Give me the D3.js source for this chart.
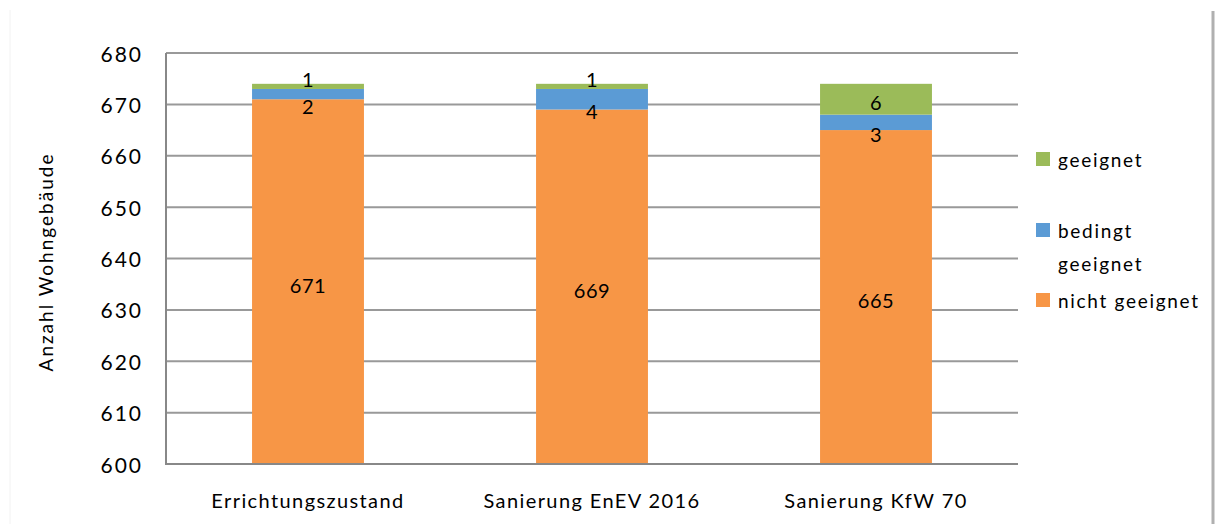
<!DOCTYPE html>
<html><head><meta charset="utf-8">
<script src="https://cdn.jsdelivr.net/npm/d3@7"></script>
<style>
html,body{margin:0;padding:0;background:#fff;}
svg{display:block;font-family:Lato,"Open Sans",sans-serif;}
</style></head>
<body>
<svg id="chart" width="1216" height="524"></svg>
<script>
const categories = ["Errichtungszustand", "Sanierung EnEV 2016", "Sanierung KfW 70"];
const seriesNames = ["nicht geeignet", "bedingt geeignet", "geeignet"];
const nichtGeeignet = [671, 669, 665];
const bedingtGeeignet = [2, 4, 3];
const geeignet = [1, 1, 6];
const yTicks = [600, 610, 620, 630, 640, 650, 660, 670, 680];
const colors = ["#F79646", "#5B9BD5", "#9BBB59"];

const svg = d3.select("#chart");
const margin = {left:166, right:1018, top:53, bottom:464};

// frame lines of the screenshot
svg.append("line").attr("x1",10).attr("x2",10).attr("y1",10).attr("y2",524)
  .attr("stroke","#f2f2f2").attr("stroke-width",1);
svg.append("line").attr("x1",1213).attr("x2",1213).attr("y1",11).attr("y2",524)
  .attr("stroke","#b0b0b0").attr("stroke-width",3);

const x = d3.scaleBand().domain(categories).range([margin.left, margin.right]).paddingInner(0.606).paddingOuter(0.303);
const y = d3.scaleLinear().domain([600, 680]).range([margin.bottom, margin.top]);

// gridlines
svg.append("g").selectAll("line").data(yTicks.slice(1)).join("line")
  .attr("x1", margin.left).attr("x2", margin.right)
  .attr("y1", d=>y(d)).attr("y2", d=>y(d))
  .attr("stroke","#999").attr("stroke-width",2);

// data
const rows = categories.map((c,i)=>({cat:c, "nicht geeignet":nichtGeeignet[i], "bedingt geeignet":bedingtGeeignet[i], "geeignet":geeignet[i]}));
const stack = d3.stack().keys(seriesNames)(rows);
const base = 600;

const g = svg.append("g");
stack.forEach((s, si) => {
  g.selectAll(null).data(s).join("rect")
    .attr("x", d=>x(d.data.cat))
    .attr("width", x.bandwidth())
    .attr("y", d=>y(d[1]))
    .attr("height", d=>y(Math.max(d[0],base)) - y(d[1]))
    .attr("fill", colors[si]);
});

// labels
stack.forEach((s, si) => {
  g.selectAll(null).data(s).join("text")
    .attr("x", d=>x(d.data.cat)+x.bandwidth()/2)
    .attr("y", d=>{
      const y0 = y(Math.max(d[0],base)), y1 = y(d[1]);
      let cy = (y0+y1)/2 + 3;
      const h = y0 - y1;
      if (si === 2 && h < 12) cy -= 10;
      if (si === 1 && h < 25) cy += 9;
      return cy;
    })
    .attr("text-anchor","middle").attr("dominant-baseline","central")
    .attr("font-size",20).attr("letter-spacing",0.5).attr("fill","#000")
    .text(d=>d[1]-d[0]);
});

// axes lines
svg.append("line").attr("x1",margin.left).attr("x2",margin.left).attr("y1",margin.top).attr("y2",margin.bottom+1)
  .attr("stroke","#888").attr("stroke-width",2);
svg.append("line").attr("x1",margin.left).attr("x2",margin.right).attr("y1",margin.bottom).attr("y2",margin.bottom)
  .attr("stroke","#888").attr("stroke-width",2);

// y tick labels
svg.append("g").selectAll("text").data(yTicks).join("text")
  .attr("x", 143).attr("y", d=>y(d))
  .attr("text-anchor","end").attr("dominant-baseline","central")
  .attr("font-size",21).attr("letter-spacing",2).attr("fill","#000").text(d=>d);

// x labels
svg.append("g").selectAll("text").data(categories).join("text")
  .attr("x", d=>x(d)+x.bandwidth()/2).attr("y", 508)
  .attr("text-anchor","middle").attr("font-size",20).attr("letter-spacing",1.4).attr("fill","#000").text(d=>d);

// y axis title
svg.append("text").attr("transform","translate(53,262) rotate(-90)")
  .attr("text-anchor","middle").attr("font-size",19).attr("letter-spacing",2).attr("fill","#000")
  .text("Anzahl Wohngebäude");

// legend
const legend = [
  {name:"geeignet", color:colors[2], y:152, lines:["geeignet"]},
  {name:"bedingt geeignet", color:colors[1], y:223, lines:["bedingt","geeignet"]},
  {name:"nicht geeignet", color:colors[0], y:293, lines:["nicht geeignet"]}
];
const lg = svg.append("g");
legend.forEach(l=>{
  lg.append("rect").attr("x",1036).attr("y",l.y).attr("width",14).attr("height",14).attr("fill",l.color);
  l.lines.forEach((t,i)=>{
    lg.append("text").attr("x",1058).attr("y",l.y+15+i*33).attr("font-size",19).attr("letter-spacing",1.7).attr("fill","#000").text(t);
  });
});
</script>
</body></html>
